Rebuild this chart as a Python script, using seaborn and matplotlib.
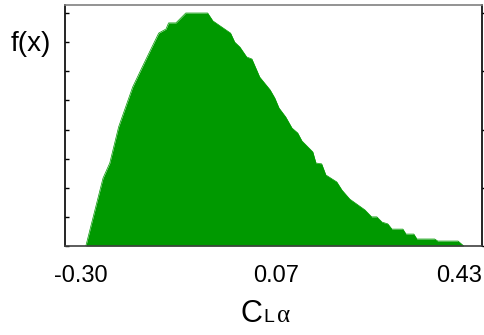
import matplotlib
matplotlib.use("Agg")
import matplotlib.pyplot as plt
import matplotlib.transforms as mtransforms
import seaborn as sns
import pandas as pd

sns.set_style("white")
plt.rcParams['font.family'] = ['Liberation Sans', 'DejaVu Sans']
plt.rcParams['text.color'] = 'black'
plt.rcParams['xtick.color'] = 'black'
plt.rcParams['ytick.color'] = 'black'

# Outline of the distribution (x value, f(x) in tick units)
x_vals = [-0.300, -0.267, -0.254, -0.237, -0.210, -0.187, -0.160, -0.146, -0.141,
          -0.127, -0.108, -0.066, -0.056, -0.022, -0.014, -0.004, 0.009, 0.019,
          0.034, 0.054, 0.063, 0.071, 0.084, 0.096, 0.107, 0.115, 0.136, 0.142,
          0.153, 0.161, 0.182, 0.192, 0.207, 0.236, 0.249, 0.259, 0.269, 0.280,
          0.288, 0.309, 0.315, 0.330, 0.336, 0.370, 0.376, 0.415, 0.426]
f_vals = [0.00, 2.33, 2.85, 4.09, 5.46, 6.32, 7.31, 7.45, 7.66,
          7.66, 8.00, 8.00, 7.73, 7.31, 7.00, 6.83, 6.49, 6.42,
          5.80, 5.36, 5.08, 4.74, 4.43, 4.05, 3.88, 3.61, 3.23, 2.85,
          2.82, 2.44, 2.20, 1.92, 1.61, 1.24, 1.00, 1.00, 0.82, 0.76,
          0.58, 0.58, 0.41, 0.41, 0.24, 0.24, 0.17, 0.17, 0.00]

tick_positions = [-0.30, -0.20875, -0.1175, -0.02625, 0.065, 0.15625, 0.2475, 0.33875, 0.43]
tick_labels = ["-0.30", "", "", "", "0.07", "", "", "", "0.43"]

df = pd.DataFrame({"x": x_vals, "f": f_vals})

fig = plt.figure(figsize=(4.84, 3.35), dpi=100)
ax = fig.add_axes([65/484, 89/335, 417/484, 241/335])

green = "#009900"
sns.lineplot(data=df, x="x", y="f", ax=ax, color=green, linewidth=0.5, sort=False)
ax.fill_between(df["x"], df["f"], 0, color=green, linewidth=0)

ax.set_xlim(-0.340, 0.461)
ax.set_ylim(0, 8.275)

ax.set_xticks(tick_positions)
ax.set_xticklabels(tick_labels, fontsize=17, color='black')
ax.tick_params(axis='x', direction='out', length=5, width=1, color='black', pad=9)
# end labels sit slightly inward as in the reference
labels = ax.get_xticklabels()
for lab, dx in [(labels[0], -5.5), (labels[8], -6.5)]:
    lab.set_transform(lab.get_transform() + mtransforms.ScaledTranslation(dx/100, 0, fig.dpi_scale_trans))

ax.set_yticks(range(0, 9))
ax.set_yticklabels([])
ax.tick_params(axis='y', left=True, direction='in', length=3, width=1, color='black')

# right-side ticks
axr = ax.twinx()
axr.set_ylim(ax.get_ylim())
axr.set_yticks([0, 2, 4, 6, 8])
axr.set_yticklabels([])
axr.tick_params(axis='y', right=True, direction='out', length=3, width=1, color='black')
for s in axr.spines.values():
    s.set_visible(False)

for name, s in ax.spines.items():
    s.set_visible(True)
    s.set_linewidth(1.2)
ax.spines['top'].set_color('#808080')
ax.spines['left'].set_color('black')
ax.spines['right'].set_color('black')
ax.spines['bottom'].set_color('#404040')

ax.set_xlabel("")
ax.set_ylabel("")
# axis titles
base_y = 1 - 322/335
fig.text(241/484, base_y, "C", fontsize=22, ha='left', va='baseline', color='black')
fig.text(263/484, base_y, "L", fontsize=14, ha='left', va='baseline', color='black')
fig.text(277/484, base_y, "\u03b1", fontsize=18, ha='left', va='baseline', color='black',
         family=['Liberation Serif', 'DejaVu Serif'])
fig.text(31/484, 1 - 44/335, "f(x)", fontsize=20, ha='center', va='center', color='black')

fig.savefig("out.png", dpi=100)
